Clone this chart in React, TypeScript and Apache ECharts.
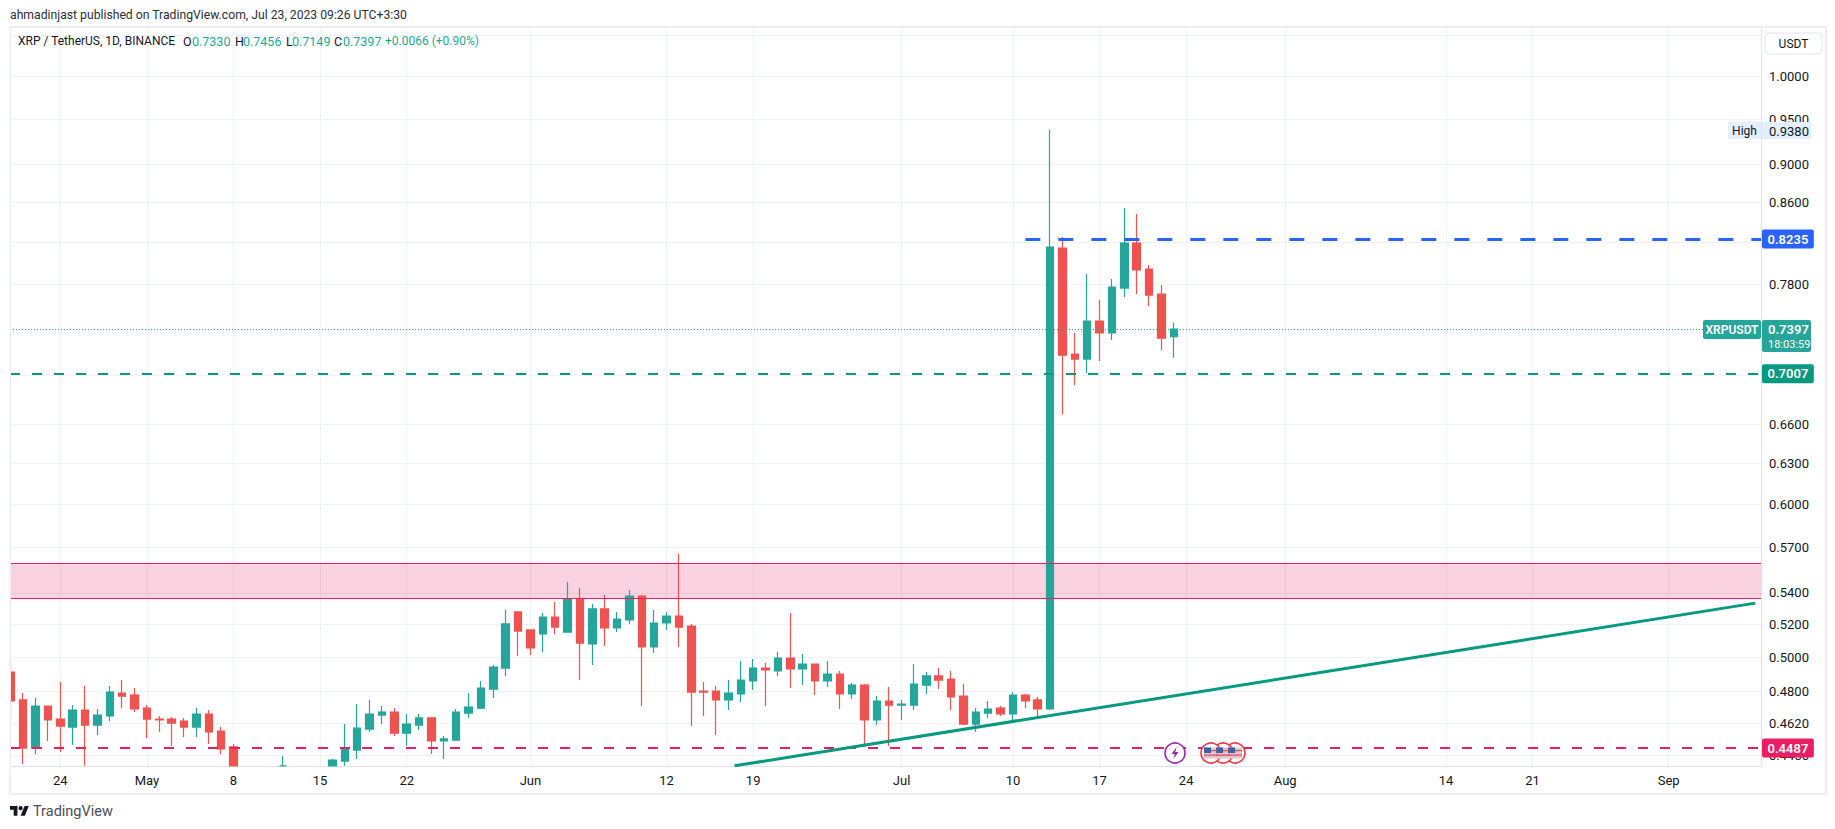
import React, { useEffect, useRef } from "react";
import * as echarts from "echarts";

const DAY = 86400000;
const FIRST_DAY = Date.UTC(2023, 3, 20);

// one entry per daily candle, Apr 20 .. Jul 23 2023
const opens = [
  0.4913, 0.4752, 0.4487, 0.4718, 0.4645, 0.4601, 0.4695, 0.4612, 0.4662, 0.4791, 0.4780,
  0.4706, 0.4645, 0.4645, 0.4634, 0.4601, 0.4673, 0.4579, 0.4493, 0.4290, 0.4280, 0.4290, 0.4393, 0.4340, 0.4320, 0.4330,
  0.4393, 0.4418, 0.4476, 0.4590, 0.4667, 0.4684, 0.4568, 0.4612, 0.4651, 0.4525, 0.4530, 0.4678, 0.4706, 0.4814, 0.4936, 0.5278,
  0.5166, 0.5141, 0.5246, 0.5153, 0.5360, 0.5080, 0.5297, 0.5178, 0.5228, 0.5379, 0.5062, 0.5209, 0.5252, 0.5190, 0.4803, 0.4803, 0.4752, 0.4786, 0.4861, 0.4936, 0.4919, 0.4996, 0.4931, 0.4960, 0.4861, 0.4901, 0.4786, 0.4837, 0.4640, 0.4746,
  0.4723, 0.4723, 0.4837, 0.4890, 0.4872, 0.4774, 0.4617, 0.4678, 0.4706, 0.4673, 0.4780, 0.4752, 0.4701, 0.8148, 0.7180, 0.7137, 0.7468, 0.7362, 0.7768, 0.8196, 0.7946, 0.7713, 0.7330,
];
const closes = [
  0.4746, 0.4487, 0.4718, 0.4640, 0.4606, 0.4695, 0.4612, 0.4667, 0.4797, 0.4774, 0.4701,
  0.4645, 0.4640, 0.4623, 0.4601, 0.4673, 0.4574, 0.4482, 0.4393, 0.4275, 0.4290, 0.4220, 0.4393, 0.4320, 0.4330, 0.4370,
  0.4423, 0.4482, 0.4595, 0.4673, 0.4684, 0.4568, 0.4617, 0.4651, 0.4525, 0.4536, 0.4684, 0.4712, 0.4820, 0.4942, 0.5203, 0.5159,
  0.5056, 0.5246, 0.5184, 0.5360, 0.5086, 0.5297, 0.5178, 0.5234, 0.5379, 0.5062, 0.5209, 0.5252, 0.5184, 0.4797, 0.4797, 0.4752, 0.4791, 0.4866, 0.4936, 0.4925, 0.4996, 0.4931, 0.4960, 0.4861, 0.4901, 0.4786, 0.4837, 0.4640, 0.4746, 0.4723,
  0.4729, 0.4843, 0.4890, 0.4866, 0.4769, 0.4617, 0.4684, 0.4701, 0.4673, 0.4780, 0.4746, 0.4701, 0.8157, 0.7171, 0.7137, 0.7468, 0.7362, 0.7777, 0.8196, 0.7937, 0.7703, 0.7318, 0.7397,
];
const lows = [
  0.4651, 0.4402, 0.4455, 0.4525, 0.4466, 0.4503, 0.4393, 0.4557, 0.4634, 0.4706, 0.4684,
  0.4541, 0.4574, 0.4498, 0.4546, 0.4546, 0.4509, 0.4455, 0.4393, 0.4240, 0.4220, 0.4190, 0.4393, 0.4290, 0.4280, 0.4290,
  0.4393, 0.4393, 0.4429, 0.4574, 0.4617, 0.4552, 0.4498, 0.4585, 0.4455, 0.4429, 0.4525, 0.4651, 0.4701, 0.4763, 0.4890, 0.5008,
  0.5014, 0.5032, 0.5141, 0.5153, 0.4866, 0.4954, 0.5068, 0.5153, 0.5203, 0.4718, 0.5026, 0.5166, 0.5062, 0.4606, 0.4662, 0.4557, 0.4695, 0.4740, 0.4809, 0.4718, 0.4890, 0.4820, 0.4837, 0.4780, 0.4826, 0.4701, 0.4757, 0.4493, 0.4612, 0.4498,
  0.4640, 0.4695, 0.4786, 0.4814, 0.4695, 0.4612, 0.4574, 0.4651, 0.4662, 0.4629, 0.4706, 0.4645, 0.4695, 0.6684, 0.6919, 0.7019, 0.7120, 0.7301, 0.7685, 0.7713, 0.7603, 0.7214, 0.7149,
];
const highs = [
  0.4990, 0.4791, 0.4763, 0.4718, 0.4855, 0.4723, 0.4832, 0.4701, 0.4832, 0.4866, 0.4820,
  0.4723, 0.4662, 0.4656, 0.4651, 0.4706, 0.4695, 0.4601, 0.4509, 0.4365, 0.4370, 0.4330, 0.4445, 0.4385, 0.4380, 0.4385,
  0.4429, 0.4617, 0.4729, 0.4752, 0.4718, 0.4706, 0.4673, 0.4673, 0.4651, 0.4552, 0.4701, 0.4791, 0.4861, 0.4954, 0.5290, 0.5278,
  0.5166, 0.5271, 0.5341, 0.5470, 0.5431, 0.5328, 0.5386, 0.5278, 0.5418, 0.5386, 0.5290, 0.5278, 0.5656, 0.5203, 0.4855, 0.4832, 0.4866, 0.4978, 0.4990, 0.4966, 0.5032, 0.5271, 0.5020, 0.4960, 0.4978, 0.4919, 0.4849, 0.4843, 0.4774, 0.4826,
  0.4752, 0.4960, 0.4913, 0.4936, 0.4919, 0.4843, 0.4706, 0.4746, 0.4718, 0.4797, 0.4786, 0.4769, 0.9380, 0.8255, 0.7362, 0.7899, 0.7658, 0.7852, 0.8546, 0.8485, 0.7984, 0.7796, 0.7456,
];

const priceGrid = [1.05, 1.0, 0.95, 0.9, 0.86, 0.82, 0.78, 0.7, 0.66, 0.63, 0.6, 0.57, 0.54, 0.52, 0.5, 0.48, 0.462, 0.445];
const priceLabels = [1.0, 0.95, 0.9, 0.86, 0.78, 0.66, 0.63, 0.6, 0.57, 0.54, 0.52, 0.5, 0.48, 0.462, 0.445];

const dateTicks: [number, number, string][] = [
  [3, 24, "24"], [4, 1, "May"], [4, 8, "8"], [4, 15, "15"], [4, 22, "22"], [5, 1, "Jun"], [5, 12, "12"], [5, 19, "19"],
  [6, 1, "Jul"], [6, 10, "10"], [6, 17, "17"], [6, 24, "24"], [7, 1, "Aug"], [7, 14, "14"], [7, 21, "21"], [8, 1, "Sep"],
];

const bandHigh = 0.5593;
const bandLow = 0.5365;
const resistance = 0.8235;
const support = 0.7012;
const lastClose = 0.7397;
const floorLevel = 0.4487;
const trendStart: [number, number, number] = [5, 17.5, 0.4393];
const trendEnd: [number, number, number] = [8, 8, 0.5334];

const legendItems: [string, string, number, number][] = [
  ["XRP / TetherUS, 1D, BINANCE", "#131722", 18, 12],
  ["O", "#131722", 183, 12.5],
  ["0.7330", "#22ab94", 192, 12.5],
  ["H", "#131722", 235, 12.5],
  ["0.7456", "#22ab94", 243, 12.5],
  ["L", "#131722", 286, 12.5],
  ["0.7149", "#22ab94", 292, 12.5],
  ["C", "#131722", 334, 12.5],
  ["0.7397", "#22ab94", 343, 12.5],
  ["+0.0066 (+0.90%)", "#22ab94", 385, 12],
];

const FONT = "Roboto, 'Open Sans', sans-serif";
const UP = "#26a69a";
const DOWN = "#ef5350";
const GRID = "#f0f3f6";
const FRAME = "#eceef3";

echarts.graphic.registerShape(
  "tvLogo",
  echarts.graphic.extendPath("M14 22H7V11H0V4h14v18zM28 22h-8l7.5-18h8L28 22zM24 8a4 4 0 1 1-8 0a4 4 0 1 1 8 0z", {})
);

const tick = (m: number, d: number) => Date.UTC(2023, m, 0) + d * DAY;
const AXIS_MIN = FIRST_DAY - 0.065 * DAY;
const AXIS_MAX = FIRST_DAY + 141.46 * DAY;

function App() {
  const ref = useRef<HTMLDivElement>(null);
  useEffect(() => {
    if (!ref.current) return;
    const chart = echarts.init(ref.current, undefined, { renderer: "svg" });
    const candles = opens.map((o, i) => [FIRST_DAY + i * DAY, o, closes[i], lows[i], highs[i]]);
    const labelOf = new Map(dateTicks.map(([m, d, s]) => [tick(m, d), s]));
    const dash = (c: string, w: number, d: number[]) => ({ color: c, width: w, type: d, opacity: 1 });
    const tag = (c: string) => ({
      show: true,
      position: "end" as const,
      distance: 1,
      formatter: (p: any) => p.data.tagText,
      color: "#fff",
      backgroundColor: c,
      borderRadius: 2,
      padding: [3, 5.5],
      fontSize: 13,
      fontWeight: 600,
      fontFamily: FONT,
    });
    const flag = (cx: number) => ({
      type: "group",
      silent: true,
      z: 60,
      children: [
        { type: "circle", z: 60, shape: { cx, cy: 753, r: 10 }, style: { fill: "#fff", stroke: "#f23645", lineWidth: 1.6 } },
        { type: "rect", z: 61, shape: { x: cx - 7, y: 747.5, width: 14, height: 11 }, style: { fill: "#e6c3cb" } },
        { type: "rect", z: 62, shape: { x: cx - 7, y: 747.5, width: 7, height: 5.5 }, style: { fill: "#3c5fa8" } },
        { type: "rect", z: 62, shape: { x: cx - 7, y: 754.5, width: 14, height: 1.2 }, style: { fill: "#d84a5c" } },
        { type: "rect", z: 62, shape: { x: cx, y: 750, width: 7, height: 1.2 }, style: { fill: "#d84a5c" } },
      ],
    });
    const text = (t: string, x: number, y: number, fill: string, size = 13, weight = 400, align = "left") => ({
      type: "text",
      x,
      y,
      z: 110,
      silent: true,
      style: { text: t, fill, fontSize: size, fontWeight: weight, fontFamily: FONT, align, verticalAlign: "middle" },
    });
    const box = (x: number, y: number, width: number, height: number, fill: string, r = 0) => ({
      type: "rect",
      z: 105,
      silent: true,
      shape: { x, y, width, height, r },
      style: { fill },
    });
    chart.setOption({
      animation: false,
      backgroundColor: "#ffffff",
      grid: { left: 10, right: 74, top: 27, bottom: 63, containLabel: false },
      xAxis: {
        type: "value",
        min: AXIS_MIN,
        max: AXIS_MAX,
        axisLine: { show: true, lineStyle: { color: "#e0e3eb", width: 1 } },
        axisTick: { show: false, customValues: dateTicks.map(([m, d]) => tick(m, d)) },
        splitLine: { show: true, lineStyle: { color: GRID, width: 1 } },
        axisLabel: {
          customValues: dateTicks.map(([m, d]) => tick(m, d)),
          formatter: (v: number) => labelOf.get(v) ?? "",
          color: "#131722",
          fontSize: 13,
          fontFamily: FONT,
          margin: 8,
          hideOverlap: false,
        },
      },
      yAxis: {
        type: "log",
        position: "right",
        min: 0.4392,
        max: 1.0606,
        axisLine: { show: true, lineStyle: { color: "#e0e3eb", width: 1 } },
        axisTick: { show: false, customValues: priceGrid },
        splitLine: { show: true, lineStyle: { color: GRID, width: 1 } },
        axisLabel: {
          customValues: priceLabels,
          formatter: (v: number) => v.toFixed(4),
          color: "#131722",
          fontSize: 13,
          fontFamily: FONT,
          margin: 8,
          hideOverlap: false,
        },
      },
      series: [
        {
          type: "candlestick",
          barWidth: 8,
          data: candles,
          encode: { x: 0, y: [1, 2, 3, 4] },
          itemStyle: { color: UP, color0: DOWN, borderColor: UP, borderColor0: DOWN, borderColorDoji: UP, borderWidth: 1.2 },
          markArea: {
            silent: true,
            itemStyle: { color: "rgba(233,30,99,0.2)" },
            data: [[{ yAxis: bandHigh }, { yAxis: bandLow }]],
          },
          markLine: {
            silent: true,
            symbol: ["none", "none"],
            animation: false,
            label: { show: false },
            data: [
              [
                { coord: [AXIS_MIN, bandHigh], lineStyle: { color: "#e91e63", width: 1, type: "solid", opacity: 1 } },
                { coord: [AXIS_MAX, bandHigh] },
              ],
              [
                { coord: [AXIS_MIN, bandLow], lineStyle: { color: "#e91e63", width: 1, type: "solid", opacity: 1 } },
                { coord: [AXIS_MAX, bandLow] },
              ],
              [
                { coord: [AXIS_MIN, lastClose], lineStyle: dash(UP, 1, [1, 2]) },
                { coord: [AXIS_MAX, lastClose] },
              ],
              [
                { coord: [tick(6, 11), resistance], lineStyle: dash("#2962ff", 3, [15, 18]), tagText: "0.8235", label: tag("#2962ff") },
                { coord: [AXIS_MAX, resistance], tagText: "0.8235" },
              ],
              [
                { coord: [AXIS_MIN, support], lineStyle: dash("#089981", 2, [10, 12]), tagText: "0.7007", label: tag("#089981") },
                { coord: [AXIS_MAX, support], tagText: "0.7007" },
              ],
              [
                { coord: [AXIS_MIN, floorLevel], lineStyle: dash("#e91e63", 2, [10, 12]), tagText: "0.4487", label: tag("#e91e63") },
                { coord: [AXIS_MAX, floorLevel], tagText: "0.4487" },
              ],
              [
                { coord: [tick(trendStart[0], trendStart[1]), trendStart[2]], lineStyle: { color: "#089981", width: 3, type: "solid", opacity: 1 } },
                { coord: [tick(trendEnd[0], trendEnd[1]), trendEnd[2]] },
              ],
            ],
          },
        },
      ],
      graphic: {
        elements: [
          box(0, 28, 9.5, 745, "#ffffff"),
          { type: "rect", silent: true, z: 101, shape: { x: 10, y: 27, width: 1816, height: 767 }, style: { fill: "none", stroke: FRAME, lineWidth: 2 } },
          text("ahmadinjast published on TradingView.com, Jul 23, 2023 09:26 UTC+3:30", 10, 15, "#2a2e39", 12.2),
          ...legendItems.map(([t, c, x, s]) => text(t, x, 41, c, s)),
          { type: "rect", z: 105, silent: true, shape: { x: 1765, y: 33, width: 57, height: 21, r: 4 }, style: { fill: "#fff", stroke: "#e0e3eb", lineWidth: 1 } },
          text("USDT", 1793.5, 44, "#131722", 12, 400, "center"),
          box(1728, 122, 33, 17, "#e3effd"),
          text("High", 1744.5, 131, "#131722", 12, 400, "center"),
          box(1762, 122, 49, 17, "#e3effd"),
          text("0.9380", 1769, 131, "#131722", 13),
          box(1703, 320, 58, 19, UP, 2),
          text("XRPUSDT", 1732, 330, "#fff", 12, 600, "center"),
          box(1762, 320, 49, 32, UP, 2),
          text("0.7397", 1768, 329.5, "#fff", 13, 600),
          text("18:03:59", 1768, 344, "#fff", 11),
          {
            type: "group",
            silent: true,
            z: 60,
            children: [
              { type: "circle", z: 60, shape: { cx: 1175, cy: 753, r: 10 }, style: { fill: "#fff", stroke: "#9c27b0", lineWidth: 1.6 } },
              { type: "polygon", z: 61, shape: { points: [[1176.5, 747], [1171.5, 754], [1174.7, 754], [1173.5, 759], [1178.5, 752], [1175.3, 752]] }, style: { fill: "#9c27b0" } },
            ],
          },
          flag(1235),
          flag(1223),
          flag(1211),
          { type: "tvLogo", silent: true, x: 10, y: 804, scaleX: 0.53, scaleY: 0.53, style: { fill: "#131722" } },
          text("TradingView", 33, 811, "#4a4e59", 14.5),
        ],
      },
    });
    return () => chart.dispose();
  }, []);
  return (
    <div
      ref={ref}
      style={{ position: "absolute", left: 0, top: 0, width: 1835, height: 829, background: "#fff" }}
    />
  );
}

export default App;
